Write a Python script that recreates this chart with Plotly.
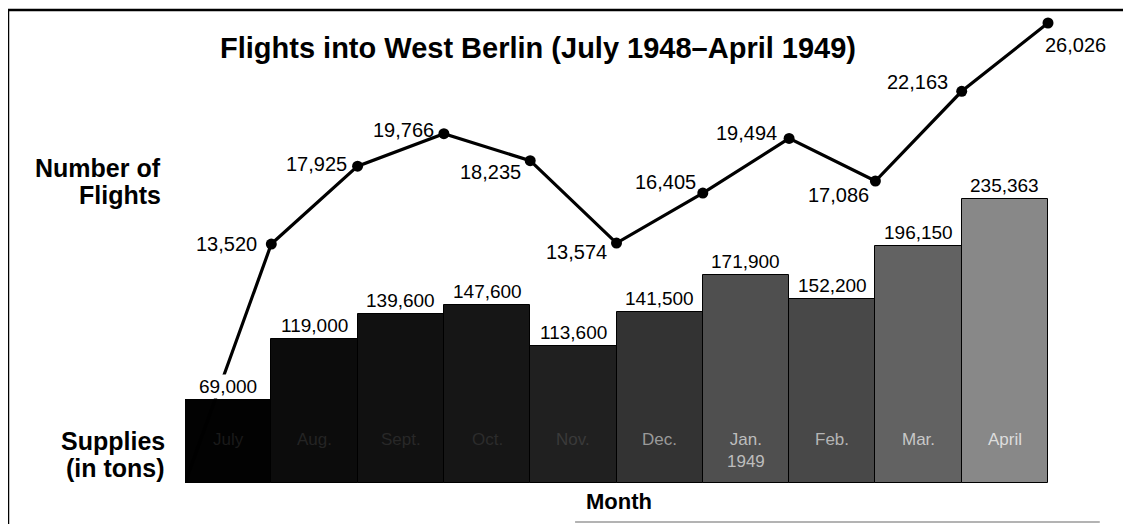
import plotly.graph_objects as go

# ---- data ----
months = ["July", "Aug.", "Sept.", "Oct.", "Nov.", "Dec.", "Jan.<br>1949", "Feb.", "Mar.", "April"]
supplies_tons = [69000, 119000, 139600, 147600, 113600, 141500, 171900, 152200, 196150, 235363]
flights = [13520, 17925, 19766, 18235, 13574, 16405, 19494, 17086, 22163, 26026]
airlift_start_flights = 0

# ---- styles ----
bar_colors = ["#020202", "#0c0c0c", "#111111", "#161616", "#202020",
              "#333333", "#4f4f4f", "#484848", "#626262", "#888888"]
month_label_colors = ["#1a1a1a", "#242424", "#282828", "#2c2c2c", "#3a3a3a",
                      "#9a9a9a", "#bdbdbd", "#b5b5b5", "#c8c8c8", "#dddddd"]
# label placement for flight values: (xanchor, xshift, yshift)
flight_label_pos = [("right", -12, 0), ("right", -9, 2), ("right", -8, 4), ("right", -7, -11),
                    ("right", -8, -9), ("right", -5, 11), ("right", -10, 5), ("right", -4, -14),
                    ("right", -12, 9), ("left", -5, -22)]

FONT = "Liberation Sans, Arial, Helvetica, sans-serif"

n = len(months)
bar_x = [i + 0.5 for i in range(n)]
point_x = [i + 1 for i in range(n)]

fig = go.Figure()

fig.add_trace(go.Bar(
    x=bar_x, y=supplies_tons, width=1.0,
    marker=dict(color=bar_colors, line=dict(color="#000000", width=1)),
    yaxis="y", hoverinfo="skip", showlegend=False,
))

# flights line (starting from the airlift start on the left edge)
fig.add_trace(go.Scatter(
    x=[0] + point_x, y=[airlift_start_flights] + flights,
    mode="lines", line=dict(color="#000000", width=3.2), cliponaxis=False,
    yaxis="y2", hoverinfo="skip", showlegend=False,
))
fig.add_trace(go.Scatter(
    x=point_x, y=flights, mode="markers", cliponaxis=False,
    marker=dict(color="#000000", size=11),
    yaxis="y2", hoverinfo="skip", showlegend=False,
))

annotations = []
# bar value labels
for i in range(n):
    annotations.append(dict(
        x=bar_x[i], y=supplies_tons[i], xref="x", yref="y",
        text=f"{supplies_tons[i]:,}", showarrow=False,
        xanchor="center", yanchor="bottom", yshift=1,
        bgcolor="#ffffff", borderpad=1,
        font=dict(family=FONT, size=19, color="#000000"),
    ))
# flight value labels
for i in range(n):
    xa, xs, ys = flight_label_pos[i]
    annotations.append(dict(
        x=point_x[i], y=flights[i], xref="x", yref="y2",
        text=f"{flights[i]:,}", showarrow=False,
        xanchor=xa, yanchor="middle", xshift=xs, yshift=ys,
        font=dict(family=FONT, size=20, color="#000000"),
    ))
# month labels inside bars
for i in range(n):
    two_line = "<br>" in months[i]
    annotations.append(dict(
        x=bar_x[i], y=0.068 if two_line else 0.091, xref="x", yref="paper",
        text=months[i], showarrow=False, xanchor="center", yanchor="middle",
        font=dict(family=FONT, size=17, color=month_label_colors[i]),
    ))
# titles
def side_label(text, x, y, size):
    return dict(x=x, y=y, xref="paper", yref="paper", showarrow=False,
                text=f"<b>{text}</b>", xanchor="right", yanchor="middle",
                font=dict(family=FONT, size=size, color="#000000"))

annotations += [
    dict(x=0.409, y=0.92, xref="paper", yref="paper", showarrow=False,
         text="<b>Flights into West Berlin (July 1948–April 1949)</b>",
         xanchor="center", yanchor="middle",
         font=dict(family=FONT, size=29, color="#000000")),
    side_label("Number of", -0.0255, 0.666, 25),
    side_label("Flights", -0.0255, 0.609, 25),
    side_label("Supplies", -0.0209, 0.0888, 25),
    side_label("(in tons)", -0.0209, 0.0317, 25),
    dict(x=0.503, y=-0.04, xref="paper", yref="paper", showarrow=False,
         text="<b>Month</b>", xanchor="center", yanchor="middle",
         font=dict(family=FONT, size=22, color="#000000")),
]

shapes = [
    # frame: left and top borders
    dict(type="line", xref="paper", yref="paper", x0=-0.2051, x1=-0.2051, y0=1.0, y1=-0.09,
         line=dict(color="#000000", width=2.5)),
    dict(type="line", xref="paper", yref="paper", x0=-0.2051, x1=1.1, y0=1.0, y1=1.0,
         line=dict(color="#000000", width=2.5)),
    # faint bottom border fragment
    dict(type="line", xref="paper", yref="paper", x0=0.452, x1=1.06, y0=-0.0825, y1=-0.0825,
         line=dict(color="#9a9a9a", width=1.5)),
]

fig.update_layout(
    width=1123, height=516,
    margin=dict(l=177, r=83, t=2, b=41),
    paper_bgcolor="#ffffff", plot_bgcolor="#ffffff",
    xaxis=dict(range=[0, 10], visible=False, fixedrange=True),
    yaxis=dict(range=[0, 391500], visible=False, fixedrange=True),
    yaxis2=dict(range=[0, 26761], visible=False, overlaying="y", fixedrange=True),
    annotations=annotations, shapes=shapes,
    bargap=0, showlegend=False,
)

fig.write_html("out.html", config={"displayModeBar": False})
